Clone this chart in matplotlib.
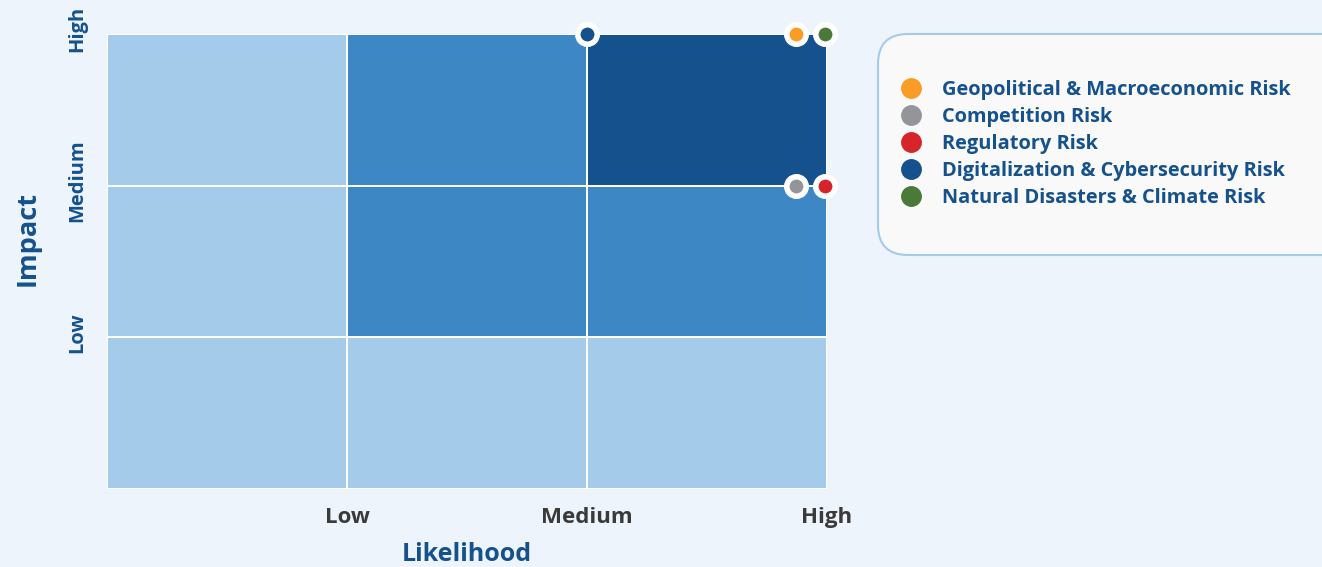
import numpy as np
import matplotlib.pyplot as plt
from matplotlib.colors import ListedColormap
from matplotlib.patches import FancyBboxPatch
from matplotlib.lines import Line2D
from matplotlib.transforms import ScaledTranslation

plt.rcParams['font.family'] = ['Open Sans', 'DejaVu Sans']

# Data
levels_labels = ['Low', 'Medium', 'High']
# cell risk level: rows = impact (bottom to top), cols = likelihood
cell_levels = np.array([[0, 0, 0],
                        [0, 1, 1],
                        [0, 1, 2]])
risks = ['Geopolitical & Macroeconomic Risk', 'Competition Risk', 'Regulatory Risk',
         'Digitalization & Cybersecurity Risk', 'Natural Disasters & Climate Risk']
likelihood = [2.87, 2.87, 2.99, 2.0, 2.99]
impact = [3.0, 2.0, 2.0, 3.0, 3.0]
risk_colors = ['#F99D27', '#939598', '#D6242A', '#15518C', '#4A7A3A']

bg = '#EDF4FB'
cell_cmap = ListedColormap(['#A5CBEA', '#3D88C4', '#15518C'])
blue_text = '#15518C'

fig = plt.figure(figsize=(13.22, 5.67), dpi=100, facecolor=bg)
ax = fig.add_axes([107 / 1322, 78 / 567, 720 / 1322, 455 / 567])
ax.set_facecolor(bg)

ax.pcolormesh(np.arange(4), np.arange(4), cell_levels, cmap=cell_cmap,
              vmin=0, vmax=2, edgecolors='white', linewidth=1.2)

for x, y, c in zip(likelihood, impact, risk_colors):
    ax.plot(x, y, 'o', ms=14, mfc=c, mec='white', mew=4, clip_on=False, zorder=5)

ax.set_xlim(0, 3)
ax.set_ylim(0, 3)
ax.set_xticks([1, 2, 3])
ax.set_xticklabels(levels_labels, fontsize=16, fontweight='bold', color='#3a3a3a')
ax.set_yticks([1, 2, 3])
ax.set_yticklabels(levels_labels, fontsize=14.5, fontweight='bold', color=blue_text,
                   rotation=90, va='center')
ax.tick_params(length=0, pad=13)
ax.tick_params(axis='y', pad=14)
# nudge y tick labels up a little
shift = ScaledTranslation(0, 5 / 100, fig.dpi_scale_trans)
for lab in ax.get_yticklabels():
    lab.set_transform(lab.get_transform() + shift)
for s in ax.spines.values():
    s.set_visible(False)

ax.set_xlabel('Likelihood', fontsize=18, fontweight='bold', color=blue_text)
ax.xaxis.set_label_coords(0.5, -0.116)
ax.set_ylabel('Impact', fontsize=19.5, fontweight='bold', color=blue_text)
ax.yaxis.set_label_coords(-0.092, 0.55)

# Legend box (pixel coordinates)
box = FancyBboxPatch((878, 567 - 255), 480, 221,
                     boxstyle='round,pad=0,rounding_size=30',
                     transform=None, facecolor='#F9F9F9',
                     edgecolor='#A5CBEA', linewidth=1.5)
fig.patches.append(box)

handles = [Line2D([], [], marker='o', ls='', ms=14, mfc=c, mec=c) for c in risk_colors]
leg = fig.legend(handles, risks, loc='upper left', bbox_to_anchor=(889 / 1322, (567 - 70) / 567),
                 frameon=False, handletextpad=0.95, labelspacing=0.35,
                 prop={'family': ['Open Sans', 'DejaVu Sans'], 'weight': 'bold', 'size': 14.4},
                 borderpad=0, handlelength=1.2)
for t in leg.get_texts():
    t.set_color(blue_text)

fig.savefig('out.png', dpi=100, facecolor=bg)
